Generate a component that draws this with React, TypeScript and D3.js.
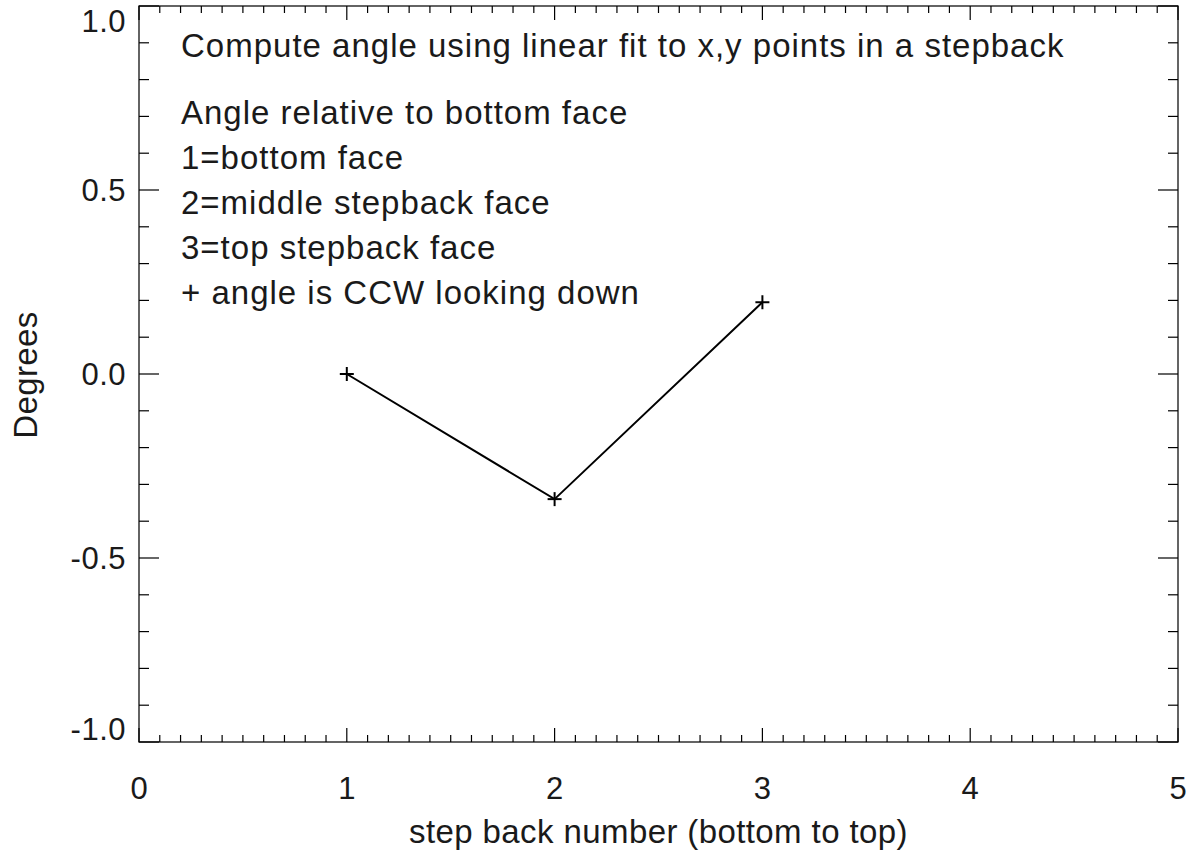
import React from 'react';
import * as d3 from 'd3';

// step back number and fitted angle (degrees)
const stepNumbers = [1, 2, 3];
const angles = [0.0, -0.34, 0.195];

const xTickValues = [0, 1, 2, 3, 4, 5];
const yTickValues = [-1.0, -0.5, 0.0, 0.5, 1.0];

const titleLine = 'Compute angle using linear fit to x,y points in a stepback';
const noteLines = [
  'Angle relative to bottom face',
  '1=bottom face',
  '2=middle stepback face',
  '3=top stepback face',
  '+ angle is CCW looking down',
];

const xLabel = 'step back number (bottom to top)';
const yLabel = 'Degrees';

const W = 1201;
const H = 861;
const margin = { top: 6, right: 23, bottom: 119, left: 139 };
const FONT = '"Liberation Sans", Arial, Helvetica, sans-serif';
const TEXT = '#1a1a1a';

export default function App() {
  const innerW = W - margin.left - margin.right;
  const innerH = H - margin.top - margin.bottom;

  const x = d3.scaleLinear().domain([0, 5]).range([0, innerW]);
  const y = d3.scaleLinear().domain([-1, 1]).range([innerH, 0]);

  const xMinor = d3.range(0, 50).map((i) => i / 10).filter((v) => Math.abs(v - Math.round(v)) > 1e-6);
  const yMinor = d3.range(-10, 11).map((i) => i / 10).filter((v) => Math.abs(v * 2 - Math.round(v * 2)) > 1e-6);

  const points = stepNumbers.map((s, i) => ({ s, a: angles[i] }));
  const line = d3
    .line<{ s: number; a: number }>()
    .x((d) => x(d.s))
    .y((d) => y(d.a));

  // IDL style labels use a plain hyphen for negatives
  const fmt = (v: number) => d3.format('.1f')(v).replace('\u2212', '-');
  const mk = 7;

  return (
    <svg width={W} height={H} style={{ display: 'block', position: 'absolute', left: 0, top: 0, background: '#fff' }}>
      <g transform={`translate(${margin.left},${margin.top})`} fontFamily={FONT}>
        {/* frame */}
        <rect x={0} y={0} width={innerW} height={innerH} fill="none" stroke="#111" strokeWidth={1.3} />

        {/* x ticks, bottom and top */}
        {xTickValues.map((v) => (
          <g key={`xt${v}`}>
            <line x1={x(v)} x2={x(v)} y1={innerH} y2={innerH - 14} stroke="#000" strokeWidth={1.2} />
            <line x1={x(v)} x2={x(v)} y1={0} y2={14} stroke="#000" strokeWidth={1.2} />
            <text x={x(v)} y={innerH + 57} textAnchor="middle" fontSize={31} fill={TEXT}>
              {v}
            </text>
          </g>
        ))}
        {xMinor.map((v) => (
          <g key={`xm${v}`}>
            <line x1={x(v)} x2={x(v)} y1={innerH} y2={innerH - 7} stroke="#000" strokeWidth={1.2} />
            <line x1={x(v)} x2={x(v)} y1={0} y2={7} stroke="#000" strokeWidth={1.2} />
          </g>
        ))}

        {/* y ticks, left and right */}
        {yTickValues.map((v) => {
          const ly = Math.min(Math.max(y(v) + 11, 26), innerH - 2);
          return (
            <g key={`yt${v}`}>
              <line x1={0} x2={20} y1={y(v)} y2={y(v)} stroke="#000" strokeWidth={1.2} />
              <line x1={innerW} x2={innerW - 20} y1={y(v)} y2={y(v)} stroke="#000" strokeWidth={1.2} />
              <text x={-13} y={ly} textAnchor="end" fontSize={31} letterSpacing={0.5} fill={TEXT}>
                {fmt(v)}
              </text>
            </g>
          );
        })}
        {yMinor.map((v) => (
          <g key={`ym${v}`}>
            <line x1={0} x2={10} y1={y(v)} y2={y(v)} stroke="#000" strokeWidth={1.2} />
            <line x1={innerW} x2={innerW - 10} y1={y(v)} y2={y(v)} stroke="#000" strokeWidth={1.2} />
          </g>
        ))}

        {/* data */}
        <path d={line(points) ?? ''} fill="none" stroke="#000" strokeWidth={2} />
        {points.map((p) => (
          <g key={`p${p.s}`} stroke="#000" strokeWidth={2}>
            <line x1={x(p.s) - mk} x2={x(p.s) + mk} y1={y(p.a)} y2={y(p.a)} />
            <line x1={x(p.s)} x2={x(p.s)} y1={y(p.a) - mk} y2={y(p.a) + mk} />
          </g>
        ))}

        {/* annotations */}
        <text x={42} y={51} fontSize={33} letterSpacing={1} fill={TEXT}>
          {titleLine}
        </text>
        {noteLines.map((t, i) => (
          <text key={t} x={42} y={118 + i * 45} fontSize={33} letterSpacing={1} fill={TEXT}>
            {t}
          </text>
        ))}

        {/* axis titles */}
        <text x={innerW / 2} y={innerH + 101} textAnchor="middle" fontSize={33} letterSpacing={0.4} fill={TEXT}>
          {xLabel}
        </text>
        <text
          transform={`translate(${-102},${innerH / 2 + 1}) rotate(-90)`}
          textAnchor="middle"
          fontSize={33}
          letterSpacing={0.4}
          fill={TEXT}
        >
          {yLabel}
        </text>
      </g>
    </svg>
  );
}
